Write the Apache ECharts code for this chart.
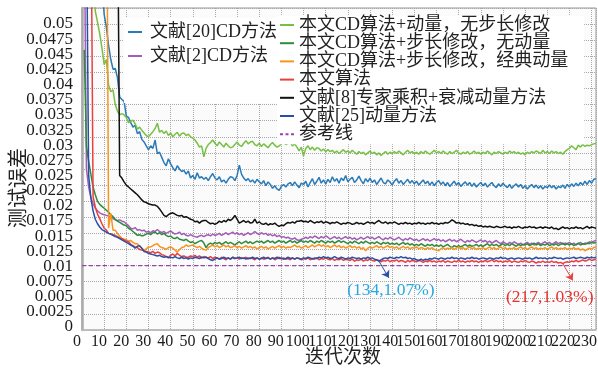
<!DOCTYPE html>
<html><head><meta charset="utf-8">
<script src="https://cdn.jsdelivr.net/npm/echarts@6/dist/echarts.min.js"></script>
<style>html,body{margin:0;padding:0;background:#fff}#c{width:598px;height:374px}</style>
</head><body><div id="c"></div>
<script>
// test error in percent, iteration 1..232 (null = above the plotted range / not visible)
const ref20 = [
null,null,null,null,null,null,null,null,5.40,4.90,
4.70,4.42,4.20,4.05,4.06,3.92,3.62,3.58,3.55,3.32,
3.30,3.22,3.15,3.18,3.05,3.08,2.96,2.92,2.86,2.80,
2.86,2.82,2.95,2.74,2.76,2.68,2.60,2.55,2.66,2.58,
2.52,2.47,2.55,2.50,2.46,2.48,2.42,2.47,2.36,2.40,
2.34,2.44,2.36,2.38,2.34,2.37,2.32,2.38,2.43,2.36,
2.33,2.38,2.30,2.33,2.28,2.34,2.38,2.37,2.32,2.40,
2.56,2.42,2.36,2.32,2.35,2.30,2.33,2.28,2.34,2.30,
2.27,2.32,2.24,2.30,2.26,2.20,2.24,2.19,2.17,2.23,
2.26,2.22,2.27,2.29,2.24,2.30,2.25,2.21,2.28,2.26,
2.31,2.22,2.29,2.35,2.26,2.31,2.37,2.28,2.33,2.27,
2.34,2.29,2.38,2.31,2.35,2.28,2.36,2.32,2.40,2.30,
2.34,2.37,2.29,2.33,2.39,2.32,2.27,2.35,2.30,2.36,
2.29,2.33,2.26,2.31,2.36,2.29,2.27,2.33,2.30,2.25,
2.31,2.35,2.28,2.32,2.26,2.30,2.34,2.28,2.32,2.27,
2.31,2.25,2.29,2.33,2.27,2.31,2.25,2.30,2.24,2.29,
2.32,2.26,2.30,2.24,2.29,2.23,2.27,2.31,2.25,2.29,
2.23,2.27,2.30,2.25,2.29,2.23,2.28,2.22,2.26,2.29,
2.24,2.28,2.22,2.26,2.29,2.24,2.21,2.27,2.23,2.28,
2.24,2.21,2.26,2.20,2.24,2.27,2.22,2.26,2.20,2.24,
2.19,2.23,2.26,2.21,2.25,2.20,2.24,2.19,2.23,2.21,
2.25,2.21,2.24,2.19,2.23,2.21,2.25,2.20,2.26,2.22,
2.27,2.23,2.28,2.24,2.29,2.25,2.31,2.26,2.32,2.28,
2.34,2.35];
const ref2 = [
6.50,2.50,2.22,2.06,1.96,1.89,1.85,1.82,1.80,1.79,
1.78,1.77,1.75,1.73,1.71,1.70,1.71,1.69,1.68,1.65,
1.62,1.58,1.57,1.59,1.55,1.56,1.54,1.55,1.52,1.53,
1.51,1.54,1.53,1.56,1.53,1.51,1.53,1.50,1.52,1.54,
1.51,1.49,1.50,1.52,1.48,1.50,1.47,1.46,1.48,1.46,
1.45,1.44,1.46,1.47,1.45,1.47,1.48,1.46,1.49,1.47,
1.48,1.50,1.47,1.49,1.51,1.48,1.50,1.52,1.49,1.51,
1.48,1.50,1.47,1.49,1.51,1.48,1.50,1.53,1.50,1.48,
1.51,1.49,1.50,1.47,1.49,1.46,1.48,1.45,1.47,1.44,
1.45,1.43,1.44,1.42,1.41,1.43,1.40,1.39,1.41,1.42,
1.44,1.42,1.45,1.43,1.46,1.44,1.42,1.45,1.43,1.46,
1.44,1.41,1.43,1.45,1.42,1.44,1.41,1.43,1.45,1.42,
1.44,1.41,1.43,1.40,1.42,1.44,1.41,1.43,1.45,1.42,
1.44,1.41,1.43,1.45,1.42,1.40,1.43,1.41,1.44,1.42,
1.40,1.42,1.44,1.41,1.39,1.42,1.40,1.43,1.41,1.39,
1.41,1.38,1.40,1.42,1.39,1.41,1.38,1.40,1.42,1.39,
1.41,1.38,1.40,1.37,1.39,1.41,1.38,1.40,1.37,1.39,
1.41,1.38,1.36,1.39,1.37,1.40,1.38,1.36,1.38,1.40,
1.37,1.39,1.36,1.38,1.35,1.37,1.39,1.36,1.34,1.37,
1.35,1.33,1.36,1.34,1.37,1.35,1.33,1.35,1.32,1.34,
1.36,1.33,1.35,1.32,1.34,1.36,1.33,1.35,1.37,1.34,
1.36,1.33,1.35,1.37,1.34,1.36,1.33,1.35,1.34,1.36,
1.33,1.35,1.32,1.34,1.36,1.33,1.35,1.34,1.37,1.36,
1.38,1.39];
const momNoStep = [
null,null,null,null,5.70,4.95,4.78,4.60,4.38,4.12,
4.20,3.80,3.70,3.73,3.50,3.40,3.34,3.36,3.34,3.30,
3.22,3.24,3.26,3.20,3.12,3.15,3.10,3.06,3.02,3.00,
3.04,3.08,3.13,3.21,3.07,3.10,3.05,3.09,3.02,3.06,
3.00,3.04,3.07,3.01,3.05,3.06,3.02,3.04,3.00,2.98,
2.95,2.90,2.84,2.86,2.69,2.82,2.88,2.91,2.95,2.90,
2.86,2.92,2.88,2.84,2.90,2.86,2.83,2.84,2.88,2.92,
2.87,2.85,2.90,2.94,2.89,2.92,2.93,2.88,2.86,2.90,
2.85,2.89,2.86,2.83,2.88,2.91,2.87,2.84,2.86,2.89,
2.92,2.88,2.90,2.91,2.86,2.89,2.84,2.78,2.84,2.70,
2.82,2.86,2.80,2.84,2.79,2.83,2.82,2.78,2.81,2.77,
2.80,2.77,2.79,2.75,2.78,2.74,2.77,2.80,2.76,2.78,
2.75,2.79,2.76,2.73,2.77,2.74,2.76,2.72,2.75,2.78,
2.74,2.76,2.72,2.75,2.71,2.74,2.77,2.73,2.76,2.74,
2.77,2.74,2.78,2.75,2.72,2.76,2.79,2.75,2.77,2.74,
2.76,2.73,2.77,2.74,2.78,2.75,2.73,2.76,2.79,2.75,
2.77,2.74,2.78,2.75,2.73,2.77,2.74,2.76,2.79,2.75,
2.73,2.76,2.74,2.77,2.73,2.75,2.78,2.74,2.76,2.73,
2.76,2.74,2.78,2.75,2.72,2.76,2.74,2.77,2.75,2.73,
2.76,2.74,2.78,2.75,2.77,2.74,2.76,2.73,2.75,2.72,
2.76,2.74,2.77,2.75,2.78,2.76,2.74,2.79,2.75,2.77,
2.74,2.78,2.75,2.77,2.74,2.76,2.73,2.77,2.80,2.82,
2.86,2.83,2.80,2.87,2.84,2.88,2.85,2.87,2.86,2.88,
2.89,2.90];
const stepNoMom = [
4.35,2.85,2.62,2.42,2.22,2.10,2.00,1.95,1.92,1.89,
1.86,1.83,1.79,1.76,1.72,1.69,1.67,1.65,1.63,1.62,
1.58,1.56,1.53,1.50,1.47,1.48,1.46,1.47,1.49,1.50,
1.48,1.51,1.52,1.49,1.51,1.48,1.50,1.47,1.45,1.46,
1.43,1.42,1.44,1.41,1.40,1.39,1.41,1.38,1.36,1.37,
1.34,1.36,1.38,1.39,1.35,1.28,1.33,1.35,1.33,1.36,
1.34,1.36,1.33,1.35,1.37,1.34,1.36,1.34,1.32,1.35,
1.37,1.34,1.36,1.38,1.35,1.37,1.34,1.36,1.38,1.36,
1.38,1.35,1.37,1.39,1.36,1.38,1.35,1.37,1.39,1.36,
1.38,1.35,1.37,1.39,1.36,1.38,1.35,1.37,1.39,1.36,
1.38,1.36,1.39,1.37,1.35,1.38,1.36,1.39,1.37,1.35,
1.38,1.36,1.38,1.35,1.37,1.39,1.36,1.38,1.36,1.34,
1.37,1.35,1.38,1.36,1.34,1.37,1.35,1.38,1.36,1.34,
1.36,1.34,1.37,1.35,1.33,1.36,1.34,1.36,1.33,1.35,
1.33,1.35,1.32,1.34,1.36,1.33,1.35,1.32,1.34,1.31,
1.33,1.31,1.34,1.32,1.30,1.33,1.31,1.33,1.30,1.32,
1.30,1.32,1.29,1.31,1.33,1.30,1.28,1.31,1.29,1.31,
1.29,1.31,1.33,1.30,1.32,1.30,1.31,1.33,1.30,1.32,
1.30,1.32,1.34,1.31,1.33,1.31,1.33,1.30,1.32,1.34,
1.31,1.33,1.31,1.34,1.32,1.30,1.33,1.31,1.33,1.32,
1.34,1.31,1.33,1.35,1.32,1.34,1.31,1.33,1.32,1.34,
1.31,1.33,1.32,1.34,1.31,1.33,1.35,1.32,1.34,1.32,
1.34,1.31,1.33,1.35,1.32,1.34,1.33,1.35,1.34,1.36,
1.35,1.36];
const stepClassicMom = [
null,null,null,null,null,null,null,null,null,null,
8.00,1.58,1.81,1.55,1.55,1.50,1.46,1.42,1.41,1.40,
1.38,1.39,1.36,1.34,1.34,1.30,1.27,1.24,1.26,1.29,
1.29,1.31,1.33,1.34,1.30,1.28,1.27,1.25,1.28,1.29,
1.27,1.24,1.21,1.25,1.28,1.29,1.32,1.30,1.31,1.32,
1.30,1.28,1.30,1.27,1.25,1.24,1.28,1.30,1.32,1.29,
1.31,1.28,1.30,1.32,1.29,1.31,1.28,1.29,1.31,1.28,
1.30,1.27,1.29,1.31,1.28,1.30,1.27,1.29,1.26,1.28,
1.30,1.27,1.29,1.26,1.28,1.30,1.27,1.29,1.31,1.28,
1.30,1.27,1.29,1.28,1.30,1.32,1.29,1.30,1.27,1.29,
1.31,1.28,1.30,1.32,1.29,1.31,1.33,1.30,1.32,1.29,
1.31,1.28,1.30,1.32,1.29,1.31,1.28,1.30,1.27,1.29,
1.31,1.28,1.30,1.27,1.29,1.26,1.28,1.23,1.27,1.29,
1.27,1.29,1.31,1.28,1.30,1.27,1.29,1.31,1.28,1.30,
1.27,1.29,1.26,1.28,1.30,1.27,1.29,1.26,1.28,1.27,
1.29,1.26,1.28,1.27,1.25,1.28,1.26,1.28,1.25,1.24,
1.23,1.26,1.28,1.25,1.27,1.26,1.28,1.25,1.27,1.29,
1.26,1.28,1.25,1.27,1.29,1.26,1.28,1.25,1.27,1.26,
1.28,1.25,1.27,1.29,1.26,1.28,1.25,1.27,1.29,1.26,
1.28,1.25,1.27,1.26,1.28,1.25,1.27,1.29,1.26,1.28,
1.25,1.27,1.29,1.26,1.28,1.25,1.27,1.26,1.28,1.25,
1.27,1.29,1.26,1.28,1.25,1.27,1.26,1.28,1.25,1.27,
1.26,1.28,1.25,1.27,1.24,1.26,1.23,1.25,1.27,1.26,
1.28,1.29];
const ours = [
null,null,null,7.00,2.07,1.91,1.80,1.73,1.65,1.58,
1.55,1.50,1.49,1.48,1.47,1.45,1.43,1.42,1.40,1.38,
1.37,1.33,1.31,1.29,1.28,1.25,1.24,1.23,1.22,1.21,
1.20,1.22,1.19,1.21,1.20,1.17,1.16,1.14,1.13,1.16,
1.18,1.15,1.19,1.16,1.14,1.15,1.13,1.13,1.15,1.14,
1.16,1.13,1.15,1.12,1.14,1.13,1.12,1.14,1.11,1.13,
1.12,1.10,1.13,1.11,1.09,1.12,1.10,1.13,1.11,1.12,
1.10,1.12,1.11,1.13,1.10,1.12,1.11,1.09,1.12,1.10,
1.12,1.10,1.11,1.13,1.10,1.12,1.09,1.11,1.13,1.10,
1.12,1.10,1.11,1.09,1.12,1.10,1.12,1.11,1.09,1.11,
1.10,1.12,1.09,1.11,1.10,1.12,1.09,1.11,1.10,1.12,
1.10,1.09,1.11,1.08,1.10,1.09,1.11,1.08,1.10,1.09,
1.08,1.10,1.07,1.09,1.08,1.10,1.07,1.09,1.08,1.10,
1.08,1.07,1.09,1.08,1.06,1.08,1.07,1.09,1.06,1.08,
1.07,1.09,1.06,1.08,1.07,1.05,1.08,1.06,1.08,1.07,
1.06,1.08,1.07,1.05,1.07,1.06,1.08,1.06,1.07,1.05,
1.07,1.06,1.08,1.05,1.07,1.06,1.05,1.07,1.06,1.08,
1.06,1.07,1.05,1.07,1.06,1.08,1.06,1.07,1.05,1.07,
1.06,1.08,1.06,1.07,1.09,1.06,1.08,1.06,1.07,1.05,
1.07,1.06,1.08,1.05,1.07,1.06,1.05,1.07,1.06,1.08,
1.06,1.05,1.07,1.06,1.04,1.06,1.05,1.07,1.05,1.06,
1.05,1.07,1.05,1.06,1.04,1.05,1.03,1.05,1.06,1.05,
1.07,1.06,1.08,1.06,1.07,1.09,1.07,1.08,1.10,1.08,
1.09,1.10];
const ref8 = [
null,null,null,null,null,null,null,null,null,null,
null,null,null,null,null,7.00,2.40,2.36,2.30,2.25,
2.22,2.19,2.16,2.13,2.10,2.06,2.02,1.99,1.98,1.96,
1.95,1.94,1.94,1.92,1.88,1.83,1.78,1.76,1.79,1.81,
1.82,1.80,1.78,1.77,1.78,1.75,1.76,1.74,1.72,1.71,
1.68,1.69,1.66,1.69,1.70,1.70,1.67,1.65,1.66,1.64,
1.66,1.69,1.67,1.70,1.68,1.72,1.70,1.73,1.78,1.72,
1.66,1.68,1.70,1.67,1.69,1.66,1.67,1.72,1.66,1.68,
1.65,1.64,1.66,1.63,1.65,1.64,1.66,1.63,1.61,1.63,
1.62,1.65,1.67,1.66,1.68,1.66,1.69,1.69,1.70,1.68,
1.69,1.67,1.70,1.68,1.66,1.68,1.67,1.69,1.66,1.68,
1.67,1.65,1.67,1.66,1.68,1.66,1.64,1.66,1.65,1.67,
1.66,1.64,1.65,1.67,1.65,1.66,1.64,1.66,1.68,1.66,
1.67,1.65,1.68,1.70,1.67,1.66,1.68,1.65,1.67,1.66,
1.68,1.66,1.64,1.66,1.65,1.67,1.65,1.66,1.64,1.66,
1.65,1.67,1.65,1.66,1.64,1.66,1.65,1.67,1.65,1.66,
1.64,1.66,1.65,1.67,1.66,1.68,1.71,1.69,1.66,1.67,
1.65,1.66,1.64,1.65,1.63,1.64,1.62,1.63,1.61,1.62,
1.60,1.61,1.60,1.61,1.60,1.59,1.61,1.60,1.59,1.60,
1.61,1.59,1.60,1.58,1.60,1.59,1.61,1.59,1.58,1.60,
1.59,1.61,1.59,1.60,1.58,1.59,1.60,1.58,1.60,1.59,
1.58,1.60,1.57,1.58,1.56,1.58,1.60,1.58,1.59,1.57,
1.59,1.58,1.60,1.58,1.59,1.57,1.59,1.61,1.58,1.60,
1.59,1.58];
const ref25 = [
null,6.50,2.40,2.05,1.85,1.72,1.65,1.60,1.56,1.54,
1.52,1.50,1.49,1.47,1.45,1.44,1.42,1.40,1.38,1.36,
1.34,1.32,1.30,1.27,1.30,1.31,1.27,1.22,1.21,1.19,
1.18,1.17,1.16,1.15,1.16,1.14,1.13,1.14,1.12,1.13,
1.12,1.14,1.12,1.11,1.13,1.11,1.12,1.10,1.12,1.11,
1.13,1.12,1.11,1.13,1.12,1.13,1.11,1.09,1.08,1.10,
1.12,1.10,1.11,1.13,1.11,1.12,1.10,1.13,1.11,1.12,
1.13,1.11,1.12,1.10,1.12,1.11,1.13,1.11,1.12,1.10,
1.11,1.13,1.11,1.12,1.10,1.12,1.11,1.13,1.11,1.12,
1.10,1.11,1.13,1.11,1.12,1.10,1.12,1.11,1.10,1.12,
1.11,1.13,1.12,1.10,1.12,1.11,1.13,1.12,1.14,1.12,
1.13,1.11,1.12,1.14,1.12,1.11,1.13,1.12,1.10,1.12,
1.11,1.13,1.12,1.11,1.12,1.10,1.12,1.11,1.13,1.11,
1.12,1.10,1.09,1.07,1.09,1.11,1.12,1.11,1.13,1.12,
1.11,1.13,1.12,1.14,1.12,1.13,1.11,1.12,1.10,1.11,
1.09,1.08,1.10,1.08,1.10,1.09,1.11,1.10,1.12,1.11,
1.10,1.12,1.11,1.10,1.12,1.11,1.13,1.11,1.12,1.10,
1.12,1.11,1.10,1.12,1.11,1.13,1.11,1.12,1.10,1.11,
1.12,1.11,1.10,1.12,1.11,1.10,1.12,1.11,1.13,1.11,
1.12,1.10,1.11,1.12,1.10,1.11,1.12,1.11,1.10,1.12,
1.11,1.12,1.10,1.11,1.13,1.11,1.12,1.11,1.12,1.10,
1.12,1.11,1.13,1.12,1.11,1.12,1.10,1.11,1.12,1.11,
1.12,1.13,1.11,1.12,1.13,1.12,1.11,1.13,1.12,1.13,
1.12,1.13];
const refLineIter = [0, 232];
const refLineLevel = [1.00, 1.00];
const xTicks = [0,10,20,30,40,50,60,70,80,90,100,110,120,130,140,150,160,170,180,190,200,210,220,230];
const noteBlue = [134, 1.07];
const noteRed = [217, 1.03];

const iterations = ref20.map((_, i) => i + 1);
const toPairs = arr => arr.map((v, i) => [iterations[i], v]).filter(p => p[1] != null).map(p => [p[0], p[1] / 100]);

const SERIF = "'Liberation Serif','Noto Sans CJK SC',serif";
const CJK = "'Noto Sans CJK SC',sans-serif";
const SOLID_ICON = 'path://M0,0H14V2H0Z';
const DASH_ICON = 'path://M0,0H3V2H0Z M5.5,0H8.5V2H5.5Z M11,0H14V2H11Z';

const defs = [
  ['文献[20]CD方法', ref20, '#2a7ab8'],
  ['文献[2]CD方法', ref2, '#a35db8'],
  ['本文CD算法+动量，无步长修改', momNoStep, '#78c044'],
  ['本文CD算法+步长修改，无动量', stepNoMom, '#2f8c3c'],
  ['本文CD算法+步长修改，经典动量', stepClassicMom, '#f7941e'],
  ['本文算法', ours, '#e8403f'],
  ['文献[8]专家乘积+衰减动量方法', ref8, '#111111'],
  ['文献[25]动量方法', ref25, '#2a4fa5']
];

function note(pt, color, textColor, offset) {
  const start = [pt[0], pt[1] / 100];
  const end = [pt[0] + 4.5, pt[1] / 100 - 0.0026];
  return {
    markLine: { silent: true, animation: false, symbol: ['none', 'arrow'], symbolSize: 7,
      lineStyle: { color: color, width: 1, type: 'solid' }, label: { show: false },
      data: [[{ coord: start }, { coord: end }]] },
    markPoint: { silent: true, animation: false, symbol: 'circle', symbolSize: 0,
      label: { show: true, position: 'inside', offset: offset, color: textColor, fontSize: 17.5, fontFamily: SERIF,
        formatter: '(' + pt[0] + ',' + pt[1].toFixed(2) + '%)' },
      data: [{ coord: start }] }
  };
}

const series = defs.map(([name, arr, color]) => ({
  name, type: 'line', xAxisIndex: 0, yAxisIndex: 0, symbol: 'none', clip: true,
  data: toPairs(arr), lineStyle: { color, width: 1.5 }, itemStyle: { color }
}));
Object.assign(series[5], note(noteRed, '#e8403f', '#e8302e', [-13, 34]));
Object.assign(series[7], note(noteBlue, '#2a4fa5', '#2aa8e0', [12, 29]));
series.push({
  name: '参考线', type: 'line', symbol: 'none', xAxisIndex: 0, yAxisIndex: 0,
  data: refLineIter.map((x, i) => [x, refLineLevel[i] / 100]),
  lineStyle: { color: '#a040b0', width: 1.2, type: [4, 3] }, itemStyle: { color: '#a040b0' }
});

const legendItem = name => ({ name, icon: name === '参考线' ? DASH_ICON : SOLID_ICON });
const EPS = 1e-9;

const chart = echarts.init(document.getElementById('c'), null, { renderer: 'canvas' });
chart.setOption({
  animation: false,
  backgroundColor: '#ffffff',
  grid: [
    { left: 82, right: 2, top: 8, bottom: 44, show: true, outerBoundsMode: 'none', containLabel: false,
      backgroundColor: '#fbfbfb', borderColor: '#999', borderWidth: 1 },
    // label-only grid: one tick step wider on every side than the tick range shown
    { left: 54.9, right: -9.1, top: 8.85, bottom: 31.85, show: false, outerBoundsMode: 'none', containLabel: false }
  ],
  xAxis: [
    { type: 'value', gridIndex: 0, min: 0, max: 232, interval: 10,
      name: '迭代次数', nameLocation: 'middle', nameGap: 16,
      nameTextStyle: { fontFamily: CJK, fontSize: 19, color: '#222', padding: [0, 0, 0, 8] },
      axisLine: { show: true, lineStyle: { color: '#bbb', width: 1.5 } }, axisTick: { show: false },
      axisLabel: { show: false },
      splitLine: { show: true, lineStyle: { color: '#a8a8a8', type: 'dotted', width: 1 } } },
    { type: 'value', gridIndex: 1, min: -10, max: 240, interval: 10, position: 'bottom',
      axisLine: { show: false, onZero: false }, axisTick: { show: false }, splitLine: { show: false },
      axisLabel: { show: true, showMinLabel: false, showMaxLabel: false, margin: -8, fontFamily: SERIF, fontSize: 16, color: '#1a1a1a',
        formatter: v => xTicks.includes(v) ? String(v) : '' } }
  ],
  yAxis: [
    { type: 'value', gridIndex: 0, min: 0, max: 0.05, interval: 0.0025,
      axisLine: { show: true, lineStyle: { color: '#aaa', width: 2.5 } }, axisTick: { show: false },
      axisLabel: { show: false },
      splitLine: { show: true, lineStyle: { color: '#a8a8a8', type: 'dotted', width: 1 } } },
    { type: 'value', gridIndex: 1, min: -0.0025, max: 0.0525, interval: 0.0025,
      axisLine: { show: false, onZero: false }, axisTick: { show: false }, splitLine: { show: false },
      axisLabel: { show: true, showMinLabel: false, showMaxLabel: false, margin: -18, fontFamily: SERIF, fontSize: 17, color: '#1a1a1a',
        formatter: v => (v < -EPS || v > 0.05 + EPS) ? '' : String(parseFloat(v.toFixed(4))) } }
  ],
  legend: [
    { data: ['文献[20]CD方法', '文献[2]CD方法'].map(legendItem), orient: 'vertical', left: 124, top: 18,
      padding: [5, 5, 38, 4], itemGap: 6, itemWidth: 14, itemHeight: 2,
      backgroundColor: '#ffffff',
      textStyle: { fontFamily: SERIF, fontSize: 18, lineHeight: 17, color: '#222', padding: [0, 0, 0, 3] } },
    { data: ['本文CD算法+动量，无步长修改', '本文CD算法+步长修改，无动量', '本文CD算法+步长修改，经典动量', '本文算法',
        '文献[8]专家乘积+衰减动量方法', '文献[25]动量方法', '参考线'].map(legendItem),
      orient: 'vertical', left: 277, top: 16, padding: [0, 16, 1, 3], itemGap: 0.2,
      itemWidth: 14, itemHeight: 2, backgroundColor: '#ffffff',
      textStyle: { fontFamily: SERIF, fontSize: 18, lineHeight: 17, color: '#222' } }
  ],
  graphic: [
    { type: 'text', x: 17, y: 188, rotation: Math.PI / 2,
      style: { text: '测试误差', fontFamily: CJK, fontSize: 20, fill: '#222', align: 'center', verticalAlign: 'middle' } }
  ],
  series
});
</script>
</body></html>
